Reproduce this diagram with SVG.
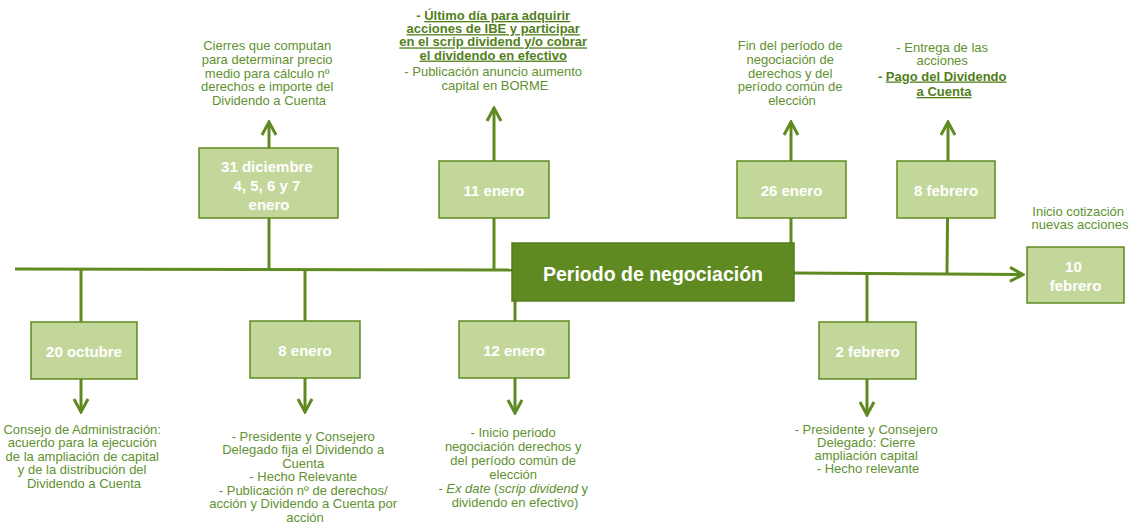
<svg xmlns="http://www.w3.org/2000/svg" width="1136" height="523" viewBox="0 0 1136 523">
<defs>
<style>
.ln{stroke:#5e8a21;stroke-width:3;fill:none}
.ar{stroke:#5e8a21;stroke-width:3;fill:none;marker-end:url(#chev)}
.box{fill:#c4d79b;stroke:#5e8a21;stroke-width:1.5}
.dk{fill:#5e8a21;stroke:#567e1d;stroke-width:1.5}
.bt{font-family:"Liberation Sans",Arial,sans-serif;font-size:15px;font-weight:bold;fill:#ffffff;text-anchor:middle}
.tt{font-family:"Liberation Sans",Arial,sans-serif;font-size:13px;fill:#5f9130;text-anchor:middle}
.b{font-weight:bold;fill:#527f1c}
.u{text-decoration:underline}
.i{font-style:italic}
</style>
<marker id="chev" viewBox="-15 -9 17 18" refX="0" refY="0" markerWidth="17" markerHeight="18" markerUnits="userSpaceOnUse" orient="auto">
<path d="M-13,-7 L0,0 L-13,7" fill="none" stroke="#5e8a21" stroke-width="3"/>
</marker>
</defs>
<rect width="1136" height="523" fill="#ffffff"/>

<g id="connectors">
<path class="ln" d="M15,269 L512,270"/>
<path class="ar" d="M794,273 L1023,274.5"/>
<path class="ln" d="M269,269 L269,218"/>
<path class="ar" d="M269,148 L269,122"/>
<path class="ln" d="M81,269 L81,322"/>
<path class="ar" d="M81,379 L81,412"/>
<path class="ln" d="M305,269.5 L305,321"/>
<path class="ar" d="M305,378 L305,412"/>
<path class="ln" d="M494,270 L494,218"/>
<path class="ar" d="M494,161 L494,108"/>
<path class="ln" d="M515,301 L515,321"/>
<path class="ar" d="M515,378 L515,413"/>
<path class="ln" d="M791,243 L791,218"/>
<path class="ar" d="M791,161 L791,122"/>
<path class="ln" d="M947,274 L947.5,218"/>
<path class="ar" d="M948,161 L948,122"/>
<path class="ln" d="M867,273.5 L867,322"/>
<path class="ar" d="M867,379 L867,415"/>
</g>

<g id="periodo">
<rect class="dk" x="512" y="243" width="282" height="58"/>
<text x="653" y="280.5" style="font-family:'Liberation Sans',Arial,sans-serif;font-size:19.5px;font-weight:bold;fill:#ffffff;text-anchor:middle">Periodo de negociación</text>
</g>

<g id="n-20oct">
<rect class="box" x="31" y="322" width="106" height="57"/>
<text class="bt" x="84" y="356.5">20 octubre</text>
<text class="tt" x="84" y="433.5">
<tspan x="84">Consejo de Administración:</tspan>
<tspan x="84" dy="13.5">acuerdo para la ejecución</tspan>
<tspan x="84" dy="13.5">de la ampliación de capital</tspan>
<tspan x="84" dy="13.5">y de la distribución del</tspan>
<tspan x="84" dy="13.5">Dividendo a Cuenta</tspan>
</text>
</g>

<g id="n-31dic">
<rect class="box" x="199" y="148" width="139" height="70"/>
<text class="bt" x="269" y="171.5">
<tspan x="269">31 diciembre</tspan>
<tspan x="269" dy="19">4, 5, 6 y 7</tspan>
<tspan x="269" dy="19">enero</tspan>
</text>
<text class="tt" x="269" y="50">
<tspan x="269">Cierres que computan</tspan>
<tspan x="269" dy="13.8">para determinar precio</tspan>
<tspan x="269" dy="13.8">medio para cálculo nº</tspan>
<tspan x="269" dy="13.8">derechos e importe del</tspan>
<tspan x="269" dy="13.8">Dividendo a Cuenta</tspan>
</text>
</g>

<g id="n-8ene">
<rect class="box" x="250" y="321" width="110" height="57"/>
<text class="bt" x="305" y="355.5">8 enero</text>
<text class="tt" x="305" y="440.5">
<tspan x="305">- Presidente y Consejero</tspan>
<tspan x="305" dy="13.5">Delegado fija el Dividendo a</tspan>
<tspan x="305" dy="13.5">Cuenta</tspan>
<tspan x="305" dy="13.5">- Hecho Relevante</tspan>
<tspan x="305" dy="13.5">- Publicación nº de derechos/</tspan>
<tspan x="305" dy="13.5">acción y Dividendo a Cuenta por</tspan>
<tspan x="305" dy="13.5">acción</tspan>
</text>
</g>

<g id="n-11ene">
<rect class="box" x="439" y="161" width="110" height="57"/>
<text class="bt" x="494" y="195.5">11 enero</text>
<text class="tt" x="495" y="20">
<tspan x="495" class="b">- <tspan class="u">Último día para adquirir</tspan></tspan>
<tspan x="495" dy="13.2" class="b u">acciones de IBE y participar</tspan>
<tspan x="495" dy="13.2" class="b u">en el scrip dividend y/o cobrar</tspan>
<tspan x="495" dy="13.2" class="b u">el dividendo en efectivo</tspan>
<tspan x="495" dy="15.9">- Publicación anuncio aumento</tspan>
<tspan x="495" dy="14">capital en BORME</tspan>
</text>
</g>

<g id="n-12ene">
<rect class="box" x="459" y="321" width="110" height="57"/>
<text class="bt" x="514" y="355.5">12 enero</text>
<text class="tt" x="515" y="437">
<tspan x="515">- Inicio periodo</tspan>
<tspan x="515" dy="13.9">negociación derechos y</tspan>
<tspan x="515" dy="13.9">del período común de</tspan>
<tspan x="515" dy="13.9">elección</tspan>
<tspan x="515" dy="13.9">- <tspan class="i">Ex date</tspan> (<tspan class="i">scrip dividend</tspan> y</tspan>
<tspan x="515" dy="13.9">dividendo en efectivo)</tspan>
</text>
</g>

<g id="n-26ene">
<rect class="box" x="737" y="161" width="109" height="57"/>
<text class="bt" x="791.5" y="195.5">26 enero</text>
<text class="tt" x="792" y="50">
<tspan x="792">Fin del período de</tspan>
<tspan x="792" dy="13.8">negociación de</tspan>
<tspan x="792" dy="13.8">derechos y del</tspan>
<tspan x="792" dy="13.8">período común de</tspan>
<tspan x="792" dy="13.8">elección</tspan>
</text>
</g>

<g id="n-2feb">
<rect class="box" x="819" y="322" width="97" height="57"/>
<text class="bt" x="867.5" y="356.5">2 febrero</text>
<text class="tt" x="868" y="433.5">
<tspan x="868">- Presidente y Consejero</tspan>
<tspan x="868" dy="13.3">Delegado: Cierre</tspan>
<tspan x="868" dy="13.3">ampliación capital</tspan>
<tspan x="868" dy="13.3">- Hecho relevante</tspan>
</text>
</g>

<g id="n-8feb">
<rect class="box" x="897" y="161" width="98" height="57"/>
<text class="bt" x="946" y="195.5">8 febrero</text>
<text class="tt" x="944" y="52">
<tspan x="944">- Entrega de las</tspan>
<tspan x="944" dy="13">acciones</tspan>
<tspan x="944" dy="15.5" class="b">- <tspan class="u">Pago del Dividendo</tspan></tspan>
<tspan x="944" dy="15.5" class="b u">a Cuenta</tspan>
</text>
</g>

<g id="n-10feb">
<rect class="box" x="1027" y="247" width="97" height="56"/>
<text class="bt" x="1075.5" y="271.5">
<tspan x="1075.5">10</tspan>
<tspan x="1075.5" dy="19.5">febrero</tspan>
</text>
<text class="tt" x="1080" y="216">
<tspan x="1080">Inicio cotización</tspan>
<tspan x="1080" dy="13">nuevas acciones</tspan>
</text>
</g>
</svg>
